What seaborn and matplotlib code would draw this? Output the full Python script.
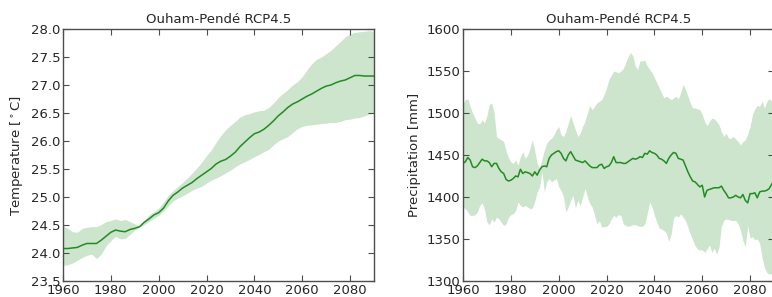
import matplotlib
matplotlib.use("Agg")
import matplotlib.pyplot as plt
import seaborn as sns
import numpy as np
import pandas as pd

# temperature, every 2 years
t_years = list(range(1960, 2091, 2))
t_mean = [24.08, 24.08, 24.09, 24.10, 24.14, 24.17, 24.17, 24.17, 24.23, 24.30,
          24.37, 24.41, 24.39, 24.38, 24.42, 24.44, 24.47, 24.55, 24.61, 24.68,
          24.72, 24.80, 24.93, 25.03, 25.09, 25.16, 25.21, 25.26, 25.33, 25.39,
          25.45, 25.51, 25.59, 25.64, 25.67, 25.73, 25.80, 25.90, 25.98, 26.06,
          26.13, 26.16, 26.21, 26.28, 26.36, 26.45, 26.52, 26.60, 26.66, 26.70,
          26.75, 26.80, 26.84, 26.89, 26.94, 26.98, 27.00, 27.04, 27.07, 27.09,
          27.13, 27.17, 27.17, 27.16, 27.16, 27.16]
t_high = [24.48, 24.44, 24.38, 24.37, 24.44, 24.46, 24.47, 24.47, 24.51, 24.56,
          24.58, 24.61, 24.58, 24.60, 24.56, 24.52, 24.48, 24.59, 24.68, 24.74,
          24.80, 24.91, 25.03, 25.11, 25.19, 25.26, 25.34, 25.43, 25.52, 25.62,
          25.74, 25.84, 25.98, 26.10, 26.20, 26.28, 26.35, 26.43, 26.47, 26.49,
          26.52, 26.54, 26.55, 26.60, 26.68, 26.78, 26.85, 26.92, 27.00, 27.06,
          27.15, 27.27, 27.38, 27.46, 27.50, 27.56, 27.62, 27.70, 27.78, 27.86,
          27.91, 27.94, 27.95, 27.96, 27.97, 27.96]
t_low = [23.78, 23.79, 23.82, 23.87, 23.92, 23.96, 23.98, 23.90, 23.98, 24.13,
         24.22, 24.30, 24.25, 24.26, 24.33, 24.41, 24.46, 24.51, 24.56, 24.62,
         24.67, 24.75, 24.84, 24.93, 24.98, 25.02, 25.07, 25.12, 25.16, 25.19,
         25.25, 25.30, 25.34, 25.38, 25.43, 25.48, 25.54, 25.59, 25.63, 25.67,
         25.72, 25.76, 25.81, 25.85, 25.93, 26.00, 26.04, 26.08, 26.15, 26.22,
         26.26, 26.28, 26.29, 26.30, 26.31, 26.32, 26.33, 26.33, 26.35, 26.38,
         26.39, 26.41, 26.42, 26.45, 26.48, 26.50]

# precipitation, yearly
p_years = list(range(1960, 2091))
p_mean = [1440, 1442, 1447, 1444, 1436, 1435, 1437, 1441, 1445, 1443,
          1443, 1441, 1436, 1440, 1440, 1434, 1430, 1428, 1421, 1419,
          1420, 1422, 1425, 1424, 1433, 1428, 1430, 1429, 1428, 1425,
          1430, 1426, 1432, 1436, 1437, 1436, 1446, 1450, 1452, 1454,
          1455, 1452, 1446, 1443, 1450, 1454, 1449, 1444, 1443, 1442,
          1441, 1443, 1440, 1437, 1435, 1435, 1435, 1438, 1439, 1434,
          1436, 1437, 1441, 1448, 1441, 1441, 1441, 1440, 1440, 1442,
          1444, 1446, 1445, 1446, 1448, 1447, 1452, 1451, 1455, 1453,
          1452, 1450, 1446, 1445, 1443, 1440, 1446, 1450, 1453, 1452,
          1446, 1445, 1444, 1437, 1430, 1424, 1419, 1418, 1415, 1412,
          1414, 1400, 1408, 1409, 1410, 1411, 1411, 1411, 1413, 1408,
          1404, 1399, 1399, 1400, 1402, 1400, 1399, 1403, 1396, 1393,
          1404, 1404, 1405, 1399, 1406, 1407, 1407, 1408, 1410, 1415,
          1420]
p_high = [1512, 1516, 1517, 1508, 1500, 1494, 1488, 1487, 1492, 1488,
          1497, 1510, 1512, 1500, 1472, 1470, 1468, 1466, 1455, 1447,
          1442, 1440, 1444, 1438, 1448, 1454, 1446, 1450, 1458, 1468,
          1455, 1440, 1434, 1445, 1456, 1464, 1468, 1470, 1474, 1480,
          1484, 1474, 1472, 1478, 1488, 1497, 1488, 1480, 1472, 1476,
          1484, 1490, 1500, 1509, 1504, 1508, 1512, 1514, 1516, 1522,
          1530, 1540, 1545, 1550, 1549, 1548, 1550, 1553, 1560, 1567,
          1572, 1568, 1556, 1552, 1562, 1562, 1563, 1556, 1552, 1548,
          1542, 1536, 1530, 1524, 1518, 1520, 1518, 1516, 1518, 1520,
          1517, 1524, 1534, 1528, 1520, 1512, 1506, 1506, 1505, 1504,
          1498, 1490, 1485, 1490, 1494, 1493, 1490, 1486, 1478, 1472,
          1476, 1470, 1470, 1472, 1469, 1466, 1462, 1466, 1468, 1475,
          1484, 1498, 1505, 1509, 1508, 1514, 1506, 1514, 1517, 1514,
          1512]
p_low = [1388, 1386, 1382, 1378, 1378, 1379, 1382, 1390, 1393, 1385,
         1370, 1367, 1374, 1370, 1376, 1374, 1370, 1366, 1368, 1376,
         1379, 1380, 1384, 1394, 1390, 1388, 1390, 1388, 1386, 1387,
         1395, 1406, 1412, 1430, 1406, 1418, 1422, 1418, 1420, 1422,
         1412, 1408, 1400, 1382, 1388, 1396, 1402, 1387, 1396, 1390,
         1400, 1410, 1400, 1392, 1388, 1378, 1368, 1372, 1364, 1365,
         1365, 1368, 1374, 1378, 1376, 1379, 1378, 1368, 1366, 1365,
         1366, 1367, 1367, 1366, 1365, 1365, 1368, 1380, 1394, 1388,
         1378, 1370, 1363, 1362, 1360, 1357, 1347, 1356, 1375, 1378,
         1376, 1380, 1376, 1372, 1364, 1356, 1349, 1342, 1338, 1337,
         1337, 1334, 1338, 1343, 1334, 1339, 1332, 1340, 1365, 1372,
         1374, 1373, 1372, 1372, 1372, 1368, 1360, 1348, 1341, 1366,
         1351, 1353, 1349, 1350, 1345, 1328, 1316, 1310, 1308, 1309,
         1312]

title = "Ouham-Pendé RCP4.5"

sns.set_style("ticks", {"xtick.direction": "in", "ytick.direction": "in",
                        "axes.edgecolor": "0.3"})
plt.rcParams["font.family"] = ["DejaVu Sans"]
plt.rcParams["font.size"] = 9.5
plt.rcParams["xtick.major.size"] = 4
plt.rcParams["ytick.major.size"] = 4

fig = plt.figure(figsize=(7.72, 2.97), dpi=100)
ax1 = fig.add_axes([63 / 772, 16 / 297, 311 / 772, 252 / 297])
ax2 = fig.add_axes([463 / 772, 16 / 297, 311 / 772, 252 / 297])

line_c = "#228b22"
fill_c = (0.0, 0.5, 0.0, 0.2)

tdf = pd.DataFrame({"year": t_years, "mean": t_mean})
ax1.fill_between(t_years, t_low, t_high, color=fill_c, linewidth=0)
sns.lineplot(data=tdf, x="year", y="mean", ax=ax1, color=line_c, linewidth=1.1)
ax1.set_xlim(1960, 2090)
ax1.set_ylim(23.5, 28.0)
ax1.set_yticks(np.arange(23.5, 28.01, 0.5))
ax1.set_ylabel(r"Temperature [$^\circ$C]")
ax1.set_title(title, fontsize=9.5, pad=4)

pdf = pd.DataFrame({"year": p_years, "mean": p_mean})
ax2.fill_between(p_years, p_low, p_high, color=fill_c, linewidth=0)
sns.lineplot(data=pdf, x="year", y="mean", ax=ax2, color=line_c, linewidth=1.1)
ax2.set_xlim(1960, 2090)
ax2.set_ylim(1300, 1600)
ax2.set_yticks(range(1300, 1601, 50))
ax2.set_ylabel("Precipitation [mm]")
ax2.set_title(title, fontsize=9.5, pad=4)

for ax in (ax1, ax2):
    ax.set_xlabel("")
    ax.set_xticks(range(1960, 2081, 20))
    ax.tick_params(top=True, right=True, labelsize=9.5, pad=2, width=0.8,
                   color="0.3")
    for s in ax.spines.values():
        s.set_linewidth(1.0)

fig.savefig("out.png", dpi=100)
